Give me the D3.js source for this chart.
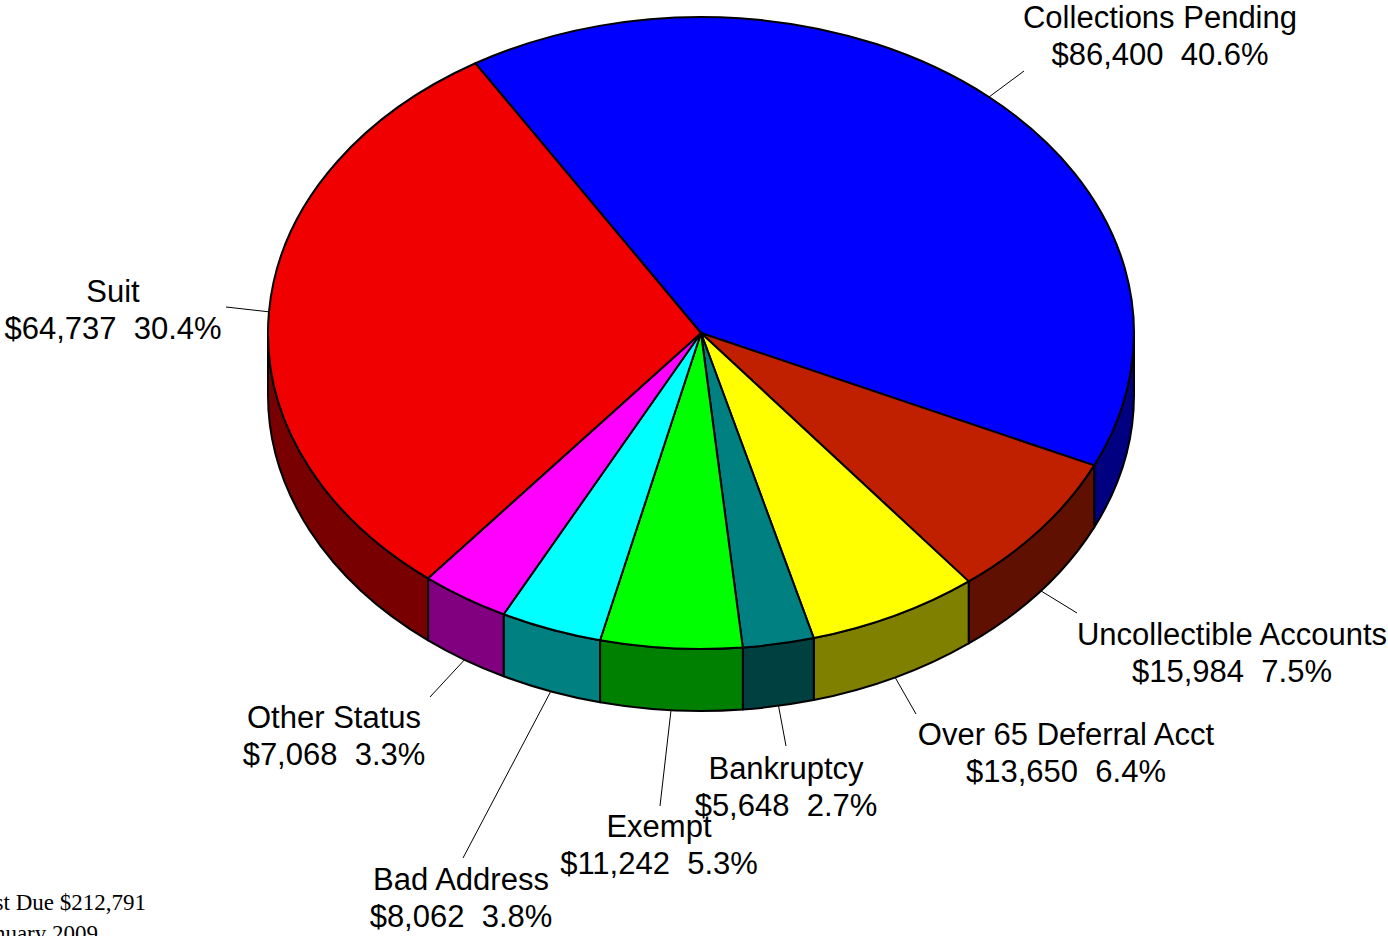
<!DOCTYPE html>
<html>
<head>
<meta charset="utf-8">
<script src="https://cdn.jsdelivr.net/npm/d3@7"></script>
<style>
  html, body { margin: 0; padding: 0; background: #ffffff; }
  svg { display: block; }
</style>
</head>
<body>
<svg id="chart" width="1388" height="936"></svg>
<script>
// ---- data ----
const categories = ["Collections Pending", "Uncollectible Accounts", "Over 65 Deferral Acct", "Bankruptcy", "Exempt", "Bad Address", "Other Status", "Suit"];
const amounts = [86400, 15984, 13650, 5648, 11242, 8062, 7068, 64737];
const amountLabels = ["$86,400", "$15,984", "$13,650", "$5,648", "$11,242", "$8,062", "$7,068", "$64,737"];
const percentLabels = ["40.6%", "7.5%", "6.4%", "2.7%", "5.3%", "3.8%", "3.3%", "30.4%"];
const footnoteLines = ["Total Past Due $212,791", "January 2009"];

// ---- styling / layout ----
const topColors = ["#0000ff", "#c02000", "#ffff00", "#008080", "#00ff00", "#00ffff", "#ff00ff", "#f00000"];
const sideColors = ["#000080", "#601000", "#808000", "#004040", "#008000", "#008080", "#800080", "#780000"];
// label centre x, first baseline y, leader end x, leader end y
const labelLayout = [
  [1160, 28, 1024, 71],
  [1232, 645, 1077, 613],
  [1066, 745, 916, 714],
  [786, 779, 786, 746],
  [659, 837, 660, 806],
  [461, 890, 463, 858],
  [334, 728, 430, 697],
  [113, 302, 226, 307]
];

const W = 1388, H = 936;
const cx = 701, cy = 333, rx = 433, ry = 316, depth = 62;
const startDeg = -31.4;

const svg = d3.select("#chart");

const pie = d3.pie().sort(null).value(d => d)
  .startAngle(startDeg * Math.PI / 180)
  .endAngle(startDeg * Math.PI / 180 + 2 * Math.PI);
const arcs = pie(amounts);

const px = a => cx + rx * Math.sin(a);
const py = a => cy - ry * Math.cos(a);

// ---- sides (front half only) ----
const sides = svg.append("g");
arcs.forEach((d, i) => {
  const ranges = [];
  for (let k = -1; k <= 1; k++) {
    const s = Math.max(d.startAngle + k * 2 * Math.PI, Math.PI / 2);
    const e = Math.min(d.endAngle + k * 2 * Math.PI, 3 * Math.PI / 2);
    if (e > s) ranges.push([s, e]);
  }
  ranges.forEach(([s, e]) => {
    const large = (e - s) > Math.PI ? 1 : 0;
    const dstr = `M${px(s)},${py(s)} A${rx},${ry} 0 ${large} 1 ${px(e)},${py(e)} L${px(e)},${py(e) + depth} A${rx},${ry} 0 ${large} 0 ${px(s)},${py(s) + depth} Z`;
    sides.append("path")
      .attr("d", dstr)
      .attr("fill", sideColors[i])
      .attr("stroke", "#000")
      .attr("stroke-width", 2)
      .attr("stroke-linejoin", "round");
  });
});

// ---- top faces ----
const tops = svg.append("g");
arcs.forEach((d, i) => {
  const s = d.startAngle, e = d.endAngle;
  const large = (e - s) > Math.PI ? 1 : 0;
  const dstr = `M${cx},${cy} L${px(s)},${py(s)} A${rx},${ry} 0 ${large} 1 ${px(e)},${py(e)} Z`;
  tops.append("path")
    .attr("d", dstr)
    .attr("fill", topColors[i])
    .attr("stroke", "#000")
    .attr("stroke-width", 2)
    .attr("stroke-linejoin", "round");
});

// ---- leader lines & labels ----
const labels = svg.append("g")
  .attr("font-family", "'Liberation Sans', Arial, sans-serif")
  .attr("font-size", 31)
  .attr("fill", "#000");

arcs.forEach((d, i) => {
  const m = (d.startAngle + d.endAngle) / 2;
  let sx = px(m), sy = py(m);
  if (Math.cos(m) < 0) sy += depth;
  const [lx, ly, ex, ey] = labelLayout[i];
  svg.append("line")
    .attr("x1", sx).attr("y1", sy)
    .attr("x2", ex).attr("y2", ey)
    .attr("stroke", "#000")
    .attr("stroke-width", 1);
  labels.append("text")
    .attr("x", lx).attr("y", ly)
    .attr("text-anchor", "middle")
    .text(categories[i]);
  labels.append("text")
    .attr("x", lx).attr("y", ly + 37)
    .attr("text-anchor", "middle")
    .style("white-space", "pre")
    .text(amountLabels[i] + "  " + percentLabels[i]);
});

// ---- footnote (partly cut off at left edge, as in the reference) ----
const foot = svg.append("g")
  .attr("font-family", "'Liberation Serif', 'Times New Roman', serif")
  .attr("font-size", 23)
  .attr("fill", "#000");
foot.append("text").attr("x", 146).attr("y", 910).attr("text-anchor", "end").text(footnoteLines[0]);
foot.append("text").attr("x", 98).attr("y", 941).attr("text-anchor", "end").text(footnoteLines[1]);
</script>
</body>
</html>
